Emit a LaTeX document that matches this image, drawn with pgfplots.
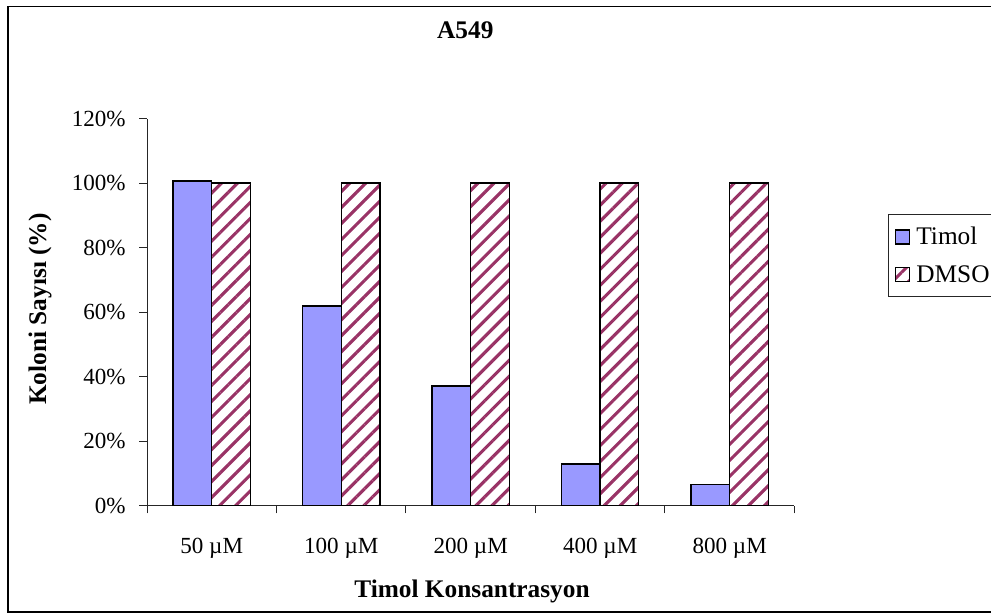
\documentclass[border=0pt]{standalone}
\usepackage{fontspec}
\setmainfont{Liberation Serif}
\usepackage{pgfplots}
\pgfplotsset{compat=1.18}
\usetikzlibrary{patterns.meta}
\definecolor{timol}{HTML}{9999FF}
\definecolor{dmso}{HTML}{993366}
\begin{document}
\begin{tikzpicture}
\useasboundingbox (0,0) rectangle (743.25pt,459.75pt);
\clip (0,0) rectangle (743.25pt,459.75pt);
\draw[line width=1.1pt] (6pt,0.9pt) rectangle (800pt,454.9pt);
\begin{axis}[
  at={(110.25pt,80.6pt)}, anchor=south west,
  scale only axis, width=485.6pt, height=290.25pt,
  xmin=-0.5, xmax=4.5, ymin=0, ymax=120,
  axis lines*=left,
  axis line style={line width=0.75pt, black!85},
  ybar=0pt, bar width=28.9pt,
  xtick={0,1,2,3,4},
  xticklabels={50 µM,100 µM,200 µM,400 µM,800 µM},
  ytick={0,20,40,60,80,100,120},
  yticklabels={0\%,20\%,40\%,60\%,80\%,100\%,120\%},
  minor xtick={-0.5,0.5,1.5,2.5,3.5,4.5},
  minor ytick={0,20,40,60,80,100,120},
  major tick length=0pt, minor tick length=5.8pt,
  tick align=outside,
  minor tick style={line width=0.75pt, black!85},
  /pgf/number format/assume math mode=true,
  tick label style={font=\fontsize{17.3}{20}\selectfont},
  yticklabel style={xshift=-12.5pt},
  xticklabel style={yshift=-21pt},
  legend style={at={(1.1445,0.7533)}, anchor=north west, draw=black!85, line width=0.75pt,
    font=\fontsize{19}{21}\selectfont, row sep=10pt, inner xsep=5pt, inner ysep=7.5pt,
    nodes={inner xsep=4.5pt}},
  legend cell align=left,
  legend image code/.code={\draw[#1, line width=0.9pt] (0pt,-5.25pt) rectangle (10.5pt,5.25pt);},
]
\addplot[draw=black, line width=1.1pt, fill=timol] coordinates {(0,100.7) (1,61.9) (2,37.1) (3,12.9) (4,6.6)};
\addplot[draw=black, line width=1.1pt, pattern={Lines[angle=45, distance=8.5pt, line width=2.3pt]}, pattern color=dmso] coordinates {(0,100) (1,100) (2,100) (3,100) (4,100)};
\legend{Timol, DMSO}
\end{axis}
\node[font=\fontsize{19}{22}\selectfont\bfseries, anchor=base] at (349pt,431pt) {A549};
\node[font=\fontsize{19}{22}\selectfont\bfseries, rotate=90] at (30pt,228pt) {Koloni Sayısı (\%)};
\node[font=\fontsize{19}{22}\selectfont\bfseries, anchor=base] at (354pt,11.25pt) {Timol Konsantrasyon};
\end{tikzpicture}
\end{document}
